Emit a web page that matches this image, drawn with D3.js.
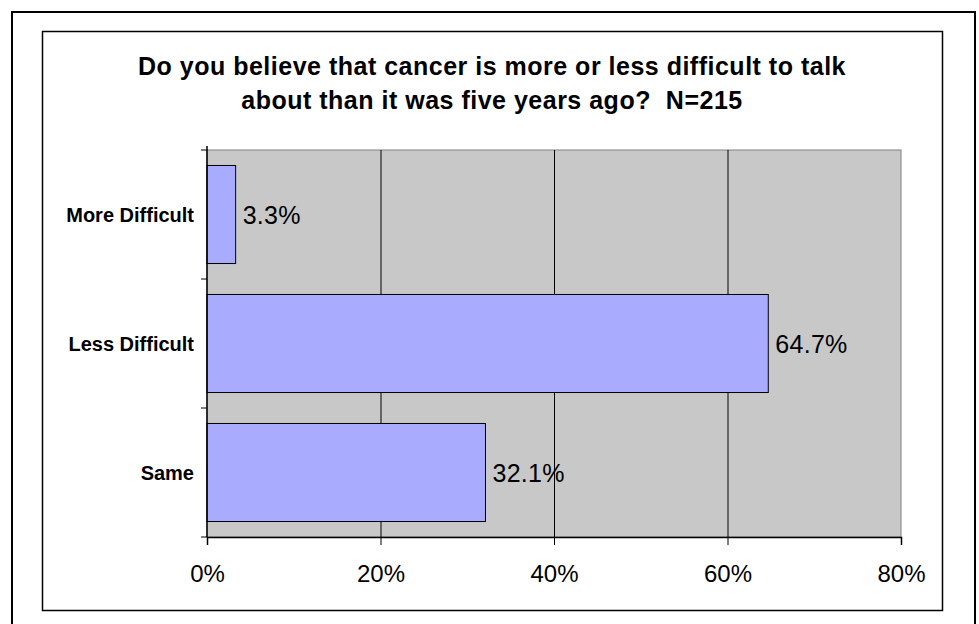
<!DOCTYPE html>
<html>
<head>
<meta charset="utf-8">
<script src="https://cdn.jsdelivr.net/npm/d3@7"></script>
<style>
  body { margin: 0; background: #fff; }
  text { font-family: Arial, "Liberation Sans", sans-serif; }
</style>
</head>
<body>
<svg></svg>
<script>
var width = 979;
var height = 624;

// data
var categories = ['More Difficult', 'Less Difficult', 'Same'];
var values = [3.3, 64.7, 32.1];
var tickValues = [0, 20, 40, 60, 80];
var titleLines = ['Do you believe that cancer is more or less difficult to talk',
                  'about than it was five years ago?  N=215'];

var svg = d3.select('svg')
    .attr('width', width)
    .attr('height', height);

// outer frame + chart frame
svg.append('rect')
    .attr('x', 12).attr('y', 12)
    .attr('width', 963).attr('height', 640)
    .attr('fill', 'none')
    .attr('stroke', 'black')
    .attr('stroke-width', 2);

svg.append('rect')
    .attr('x', 42.5).attr('y', 31.5)
    .attr('width', 900).attr('height', 579)
    .attr('fill', 'white')
    .attr('stroke', 'black')
    .attr('stroke-width', 1.5);

var plot = {left: 207, top: 150, right: 901, bottom: 537};

var x = d3.scaleLinear()
    .domain([0, 80])
    .range([plot.left, plot.right]);

var y = d3.scaleBand()
    .domain(categories)
    .range([plot.top, plot.bottom])
    .paddingInner(0.24)
    .paddingOuter(0.12);

// title
var title = svg.append('g');
titleLines.forEach(function(t, i) {
    title.append('text')
        .attr('x', 492)
        .attr('y', 75 + i * 34)
        .attr('text-anchor', 'middle')
        .attr('font-size', 25)
        .attr('font-weight', 'bold')
        .attr('letter-spacing', 0.5)
        .style('white-space', 'pre')
        .text(t);
});

// plot background
svg.append('rect')
    .attr('x', plot.left).attr('y', plot.top)
    .attr('width', plot.right - plot.left)
    .attr('height', plot.bottom - plot.top)
    .attr('fill', '#c8c8c8')
    .attr('stroke', '#808080')
    .attr('stroke-width', 1);

// gridlines
svg.append('g')
    .selectAll('line')
    .data(tickValues.slice(1, -1))
    .join('line')
    .attr('x1', d => x(d) + 0.5).attr('x2', d => x(d) + 0.5)
    .attr('y1', plot.top).attr('y2', plot.bottom)
    .attr('stroke', 'black')
    .attr('stroke-width', 1);

// bars
svg.append('g')
    .selectAll('rect')
    .data(values)
    .join('rect')
    .attr('x', x(0))
    .attr('y', (d, i) => y(categories[i]))
    .attr('width', d => x(d) - x(0))
    .attr('height', y.bandwidth())
    .attr('fill', '#a9abff')
    .attr('stroke', 'black')
    .attr('stroke-width', 1);

// data labels
svg.append('g')
    .selectAll('text')
    .data(values)
    .join('text')
    .attr('x', d => x(d) + 7)
    .attr('y', (d, i) => y(categories[i]) + y.bandwidth() / 2)
    .attr('dy', '0.36em')
    .attr('font-size', 25)
    .attr('letter-spacing', 0.3)
    .text(d => d.toFixed(1) + '%');

// x axis
var xAxis = svg.append('g')
    .attr('transform', 'translate(0,' + plot.bottom + ')')
    .call(d3.axisBottom(x)
        .tickValues(tickValues)
        .tickSize(8)
        .tickPadding(20)
        .tickFormat(d => d + '%'));
xAxis.select('.domain').attr('stroke', 'black').attr('stroke-width', 1.5);
xAxis.selectAll('text').attr('font-size', 24).attr('font-family', 'Arial, "Liberation Sans", sans-serif');

// y axis: ticks at band boundaries
var yAxis = svg.append('g');
yAxis.append('line')
    .attr('x1', plot.left).attr('x2', plot.left)
    .attr('y1', plot.top - 4).attr('y2', plot.bottom)
    .attr('stroke', 'black')
    .attr('stroke-width', 1.5);
var bounds = d3.range(categories.length + 1).map(i => plot.top + i * (plot.bottom - plot.top) / categories.length);
yAxis.selectAll('line.tick')
    .data(bounds)
    .join('line')
    .attr('class', 'tick')
    .attr('x1', plot.left - 6).attr('x2', plot.left)
    .attr('y1', d => d).attr('y2', d => d)
    .attr('stroke', 'black');

yAxis.selectAll('text')
    .data(categories)
    .join('text')
    .attr('x', plot.left - 13)
    .attr('y', d => y(d) + y.bandwidth() / 2)
    .attr('dy', '0.36em')
    .attr('text-anchor', 'end')
    .attr('font-size', 20)
    .attr('font-weight', 'bold')
    .text(d => d);
</script>
</body>
</html>
